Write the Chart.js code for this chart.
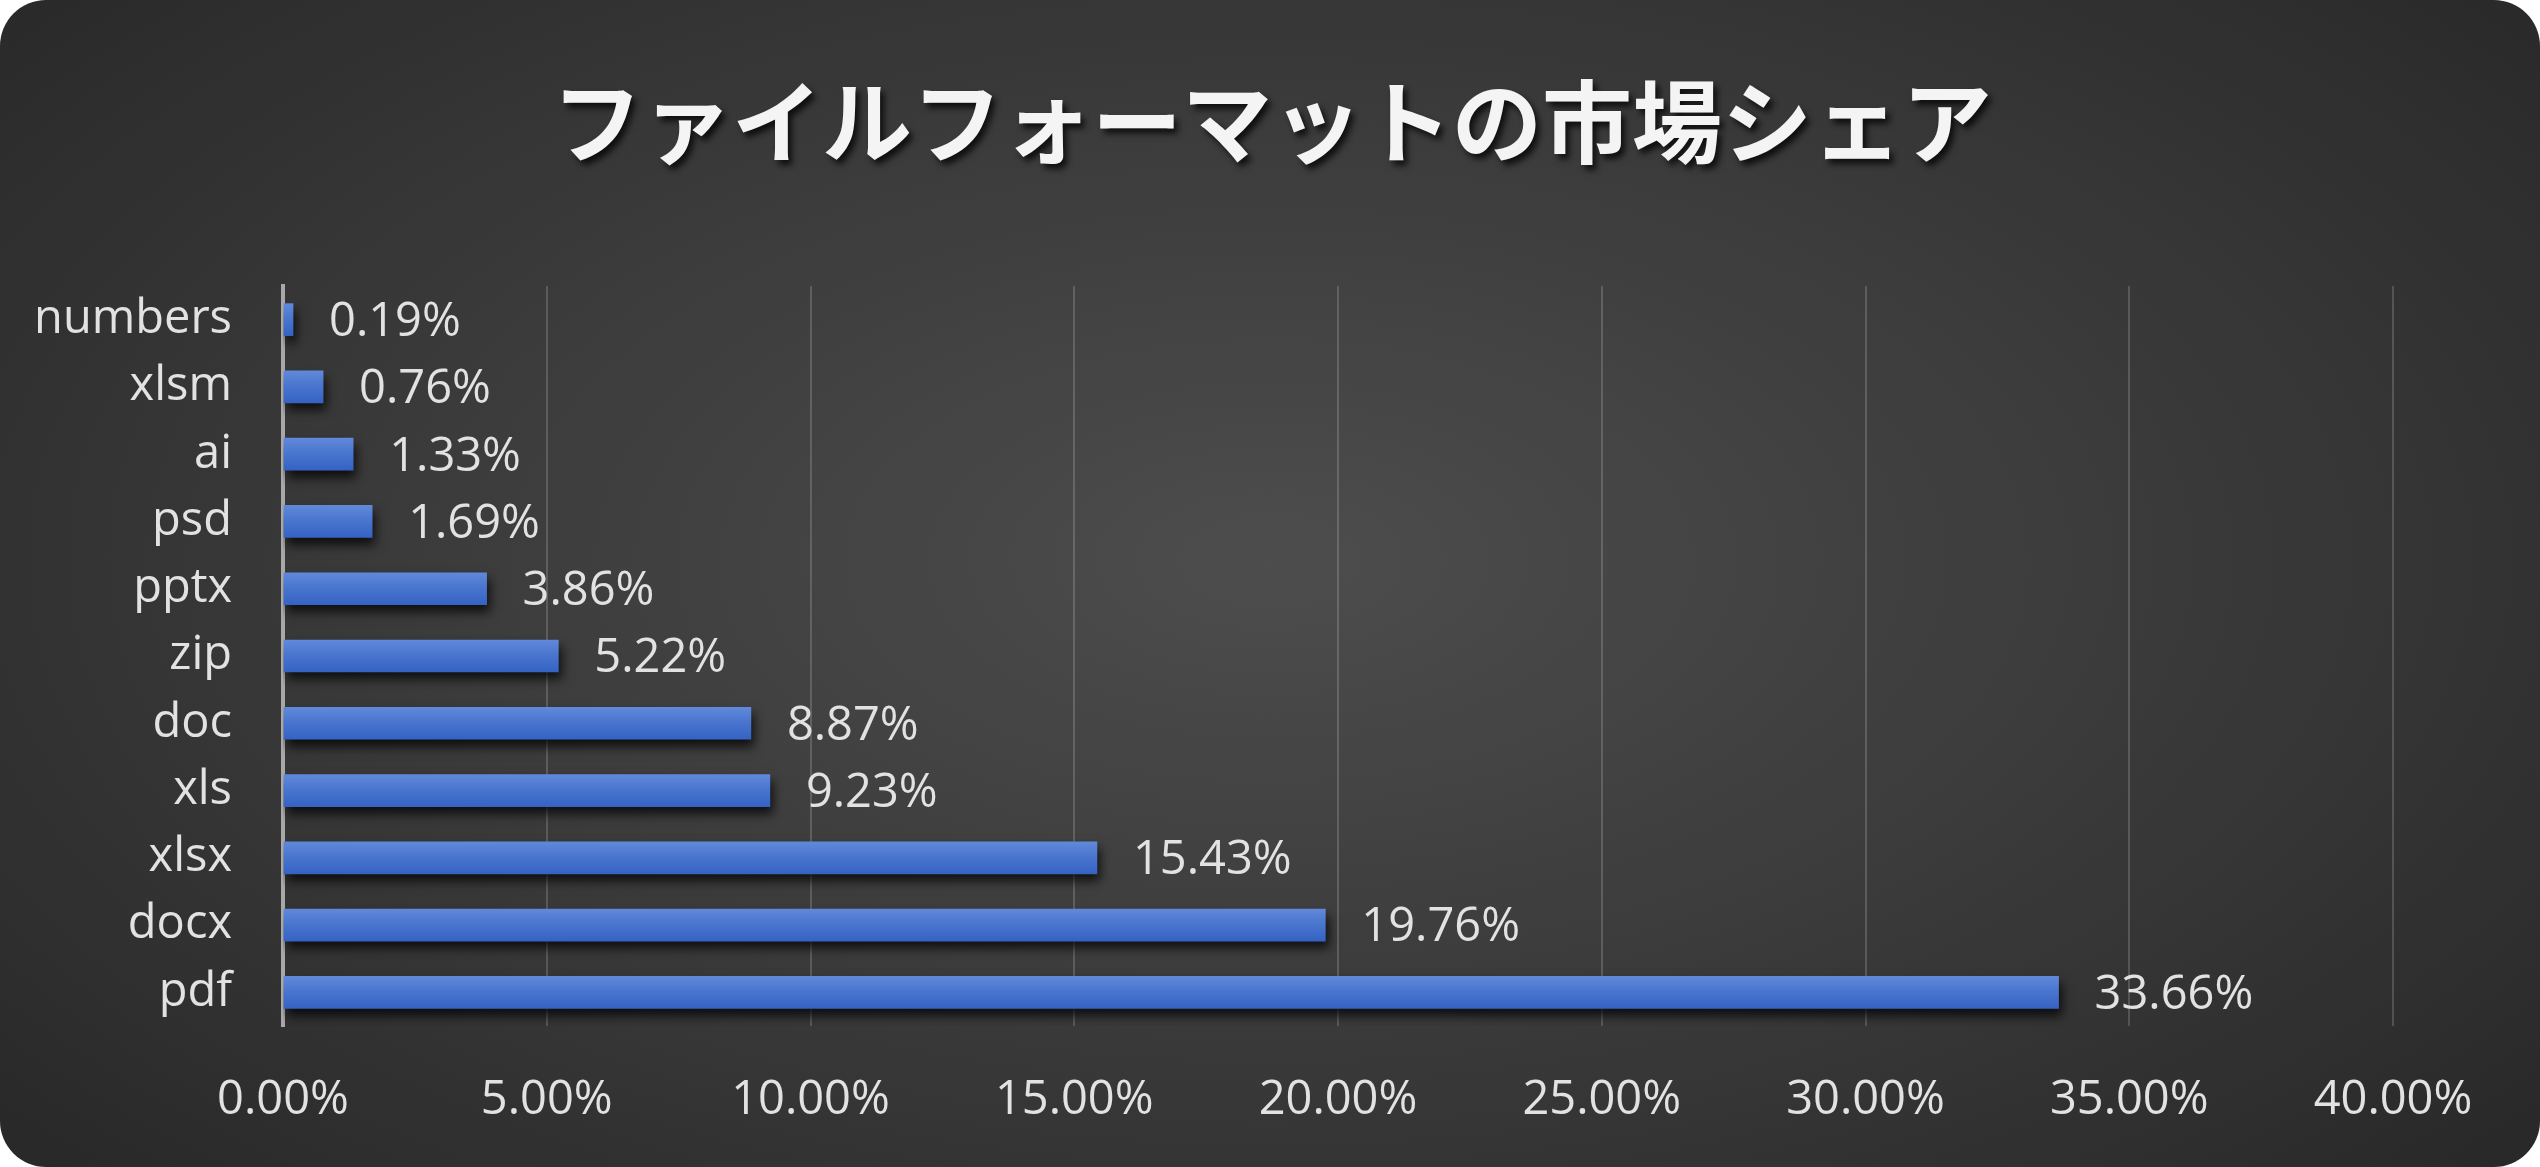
<!DOCTYPE html>
<html>
<head>
<meta charset="utf-8">
<script src="https://cdn.jsdelivr.net/npm/chart.js@4"></script>
<style>
  html, body { margin: 0; padding: 0; background: #ffffff; }
  #wrap {
    position: relative;
    width: 2540px;
    height: 1167px;
    border-radius: 46px;
    overflow: hidden;
    background: radial-gradient(ellipse 75% 85% at 50% 48%, #4d4d4d 0%, #3b3b3b 45%, #242424 100%);
  }
</style>
</head>
<body>
<div id="wrap"><canvas id="chart"></canvas></div>
<script>
// データ（上から下の順）
const categories = ['numbers', 'xlsm', 'ai', 'psd', 'pptx', 'zip', 'doc', 'xls', 'xlsx', 'docx', 'pdf'];
const shares = [0.19, 0.76, 1.33, 1.69, 3.86, 5.22, 8.87, 9.23, 15.43, 19.76, 33.66];
const titleText = 'ファイルフォーマットの市場シェア';

const labelFont = '47px "Open Sans", "Noto Sans", sans-serif';
const textColor = '#e2e2e2';

// タイトル（影付き）
const titlePlugin = {
  id: 'shadowTitle',
  afterDraw(chart) {
    const ctx = chart.ctx;
    ctx.save();
    ctx.font = 'bold 90px "Noto Sans CJK JP", sans-serif';
    ctx.textAlign = 'center';
    ctx.textBaseline = 'middle';
    ctx.shadowColor = 'rgba(0,0,0,0.75)';
    ctx.shadowBlur = 6;
    ctx.shadowOffsetX = 4;
    ctx.shadowOffsetY = 5;
    ctx.fillStyle = '#f4f4f4';
    ctx.fillText(titleText, chart.width / 2 + 2, 122);
    ctx.restore();
  }
};

// 棒の影とデータラベル
const barPlugin = {
  id: 'barShadow',
  beforeDatasetsDraw(chart) {
    const ctx = chart.ctx;
    ctx.save();
    ctx.shadowColor = 'rgba(0,0,0,0.75)';
    ctx.shadowBlur = 10;
    ctx.shadowOffsetX = 3;
    ctx.shadowOffsetY = 7;
  },
  afterDatasetsDraw(chart) {
    const ctx = chart.ctx;
    ctx.restore();
    ctx.save();
    ctx.font = labelFont;
    ctx.fillStyle = textColor;
    ctx.textAlign = 'left';
    ctx.textBaseline = 'middle';
    chart.getDatasetMeta(0).data.forEach((bar, i) => {
      ctx.fillText(shares[i].toFixed(2) + '%', bar.x + 36, bar.y + 3);
    });
    ctx.restore();
  }
};

new Chart(document.getElementById('chart'), {
  type: 'bar',
  data: {
    labels: categories,
    datasets: [{
      data: shares,
      barThickness: 32,
      borderWidth: 0,
      backgroundColor: (c) => {
        const y = c.chart.scales.y;
        if (!y || c.type !== 'data') return '#4472c4';
        const cy = y.getPixelForValue(c.dataIndex);
        if (!isFinite(cy)) return '#4472c4';
        const g = c.chart.ctx.createLinearGradient(0, cy - 16, 0, cy + 16);
        g.addColorStop(0, '#6189da');
        g.addColorStop(0.45, '#4a76cf');
        g.addColorStop(1, '#3563c4');
        return g;
      }
    }]
  },
  options: {
    indexAxis: 'y',
    responsive: true,
    maintainAspectRatio: false,
    animation: false,
    layout: { padding: { top: 286, right: 147, bottom: 0, left: 0 } },
    plugins: {
      legend: { display: false },
      title: { display: false },
      tooltip: { enabled: false }
    },
    scales: {
      x: {
        min: 0,
        max: 40,
        afterFit(axis) { axis.height = 141; },
        ticks: {
          stepSize: 5,
          padding: 46,
          color: textColor,
          font: { family: '"Open Sans", "Noto Sans", sans-serif', size: 47 },
          callback: (v) => v.toFixed(2) + '%'
        },
        grid: {
          drawTicks: false,
          lineWidth: 2,
          color: (c) => c.tick && c.tick.value === 0 ? 'rgba(0,0,0,0)' : 'rgba(255,255,255,0.17)'
        },
        border: { display: false }
      },
      y: {
        afterFit(axis) { axis.width = 283; },
        ticks: {
          padding: 51,
          color: textColor,
          font: { family: '"Open Sans", "Noto Sans", sans-serif', size: 47 }
        },
        grid: { display: false, drawTicks: false },
        border: { display: true, color: '#a8a8a8', width: 4 }
      }
    }
  },
  plugins: [titlePlugin, barPlugin]
});
</script>
</body>
</html>
